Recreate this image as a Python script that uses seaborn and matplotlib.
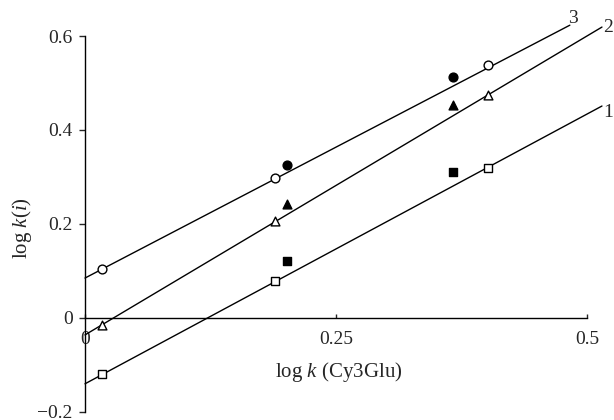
import matplotlib
matplotlib.use('Agg')
import matplotlib.pyplot as plt
import seaborn as sns

# open symbols (x positions) and filled symbols (x positions)
x_open = [0.017, 0.189, 0.401]
x_filled = [0.201, 0.367]

circle_open = [0.105, 0.298, 0.539]
circle_filled = [0.326, 0.513]
tri_open = [-0.015, 0.206, 0.475]
tri_filled = [0.243, 0.454]
sq_open = [-0.119, 0.078, 0.319]
sq_filled = [0.122, 0.311]

# fitted lines: labels and end points
line_labels = ['3', '2', '1']
line_x = [[0.0, 0.483], [0.0, 0.515], [0.0, 0.515]]
line_y = [[0.085, 0.623], [-0.036, 0.619], [-0.140, 0.451]]
label_offsets = [(-1, 5), (1, 0), (1, -5)]

xticks = [0, 0.25, 0.5]
xtick_labels = ['0', '0.25', '0.5']
yticks = [-0.2, 0, 0.2, 0.4, 0.6]
ytick_labels = ['\u22120.2', '0', '0.2', '0.4', '0.6']

sns.set_style('ticks')
plt.rcParams['font.family'] = ['Liberation Serif', 'DejaVu Serif']
plt.rcParams['mathtext.fontset'] = 'custom'
plt.rcParams['mathtext.rm'] = 'Liberation Serif'
plt.rcParams['mathtext.it'] = 'Liberation Serif:italic'

fig = plt.figure(figsize=(6.14, 4.2), dpi=100)
# axes: x 0 -> 85 px, y -0.2 -> 412 px from top
ax = fig.add_axes([85 / 614, 8 / 420, 527 / 614, 399.5 / 420])

for lx, ly, lab, off in zip(line_x, line_y, line_labels, label_offsets):
    sns.lineplot(x=lx, y=ly, ax=ax, color='black', linewidth=1.0, clip_on=False)
    ax.annotate(lab, (lx[1], ly[1]), xytext=off, textcoords='offset points',
                ha='left', va='center', fontsize=14, annotation_clip=False)

common = dict(ax=ax, s=40, linewidth=1.0, edgecolor='black', zorder=3, clip_on=False)
sns.scatterplot(x=x_open, y=circle_open, marker='o', facecolor='white', **common)
sns.scatterplot(x=x_filled, y=circle_filled, marker='o', facecolor='black', **common)
sns.scatterplot(x=x_open, y=tri_open, marker='^', facecolor='white', **common)
sns.scatterplot(x=x_filled, y=tri_filled, marker='^', facecolor='black', **common)
sns.scatterplot(x=x_open, y=sq_open, marker='s', facecolor='white', **common)
sns.scatterplot(x=x_filled, y=sq_filled, marker='s', facecolor='black', **common)

ax.set_xlim(0, 0.525)
ax.set_ylim(-0.2, 0.65)
ax.spines['top'].set_visible(False)
ax.spines['right'].set_visible(False)
ax.spines['bottom'].set_position(('data', 0))
ax.spines['bottom'].set_bounds(0, 0.5)
ax.spines['left'].set_bounds(-0.2, 0.6)
for sp in ['bottom', 'left']:
    ax.spines[sp].set_linewidth(1.0)
    ax.spines[sp].set_color('black')

ax.set_xticks(xticks)
ax.set_xticklabels(xtick_labels)
ax.set_yticks(yticks)
ax.set_yticklabels(ytick_labels)
ax.tick_params(axis='x', direction='in', length=3, width=1, pad=9, labelsize=14)
ax.tick_params(axis='y', direction='out', length=4, width=1, pad=5, labelsize=14)

ax.set_xlabel('log $k$ (Cy3Glu)', fontsize=15)
ax.xaxis.set_label_coords((339 - 85) / 527, (412 - 360) / 399.5)
ax.set_ylabel('log $k$($i$)', fontsize=15)
ax.yaxis.set_label_coords(-(85 - 34) / 527, (412 - 228) / 399.5)

fig.savefig('out.png', dpi=100)
